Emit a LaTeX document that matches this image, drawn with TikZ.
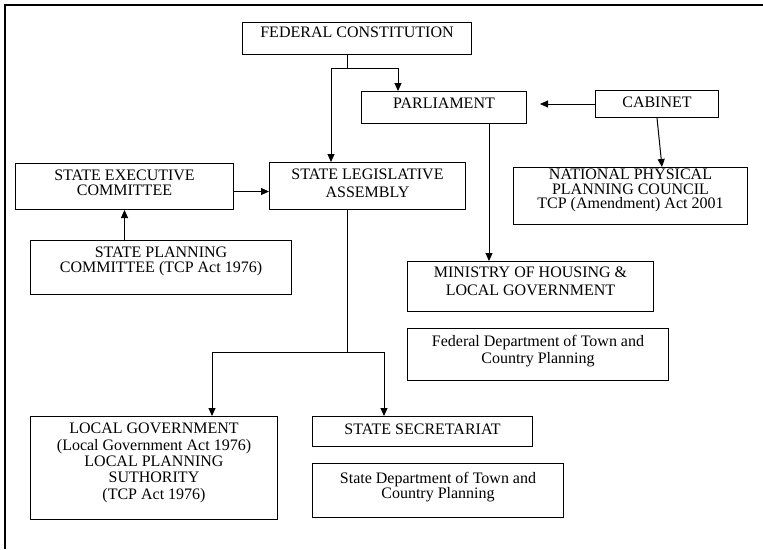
\documentclass[tikz,border=0pt]{standalone}
\usepackage{fontspec}
\setmainfont{Liberation Serif}
\usepackage{tikz}
\usetikzlibrary{arrows.meta, positioning}
\tikzstyle{block} = [rectangle, draw=black, line width=1pt, inner sep=0pt, anchor=north west]
\tikzstyle{txt} = [inner sep=0pt, align=center]
\tikzstyle{arrow} = [line width=1pt, ->, >={Triangle[length=8pt,width=7pt]}]
\tikzstyle{line} = [line width=1pt]
\newcommand{\boxfont}[1]{\fontsize{16}{#1}\selectfont}

\begin{document}
\begin{tikzpicture}[x=1pt, y=-1pt]
    \useasboundingbox (0,0) rectangle (763,549);
    \draw[line width=2.5pt] (5,549) -- (5,5) -- (763,5);
    % boxes
    \node (fc) [block, minimum width=229pt, minimum height=32pt] at (242,22) {};
    \node (parl) [block, minimum width=165pt, minimum height=32pt] at (361,91) {};
    \node (cab) [block, minimum width=123pt, minimum height=27pt] at (595,90) {};
    \node (sla) [block, minimum width=196pt, minimum height=47pt] at (269,162) {};
    \node (sec) [block, minimum width=218pt, minimum height=46pt] at (15,163) {};
    \node (spc) [block, minimum width=261pt, minimum height=54pt] at (30,240) {};
    \node (nppc) [block, minimum width=234pt, minimum height=57pt] at (513,167) {};
    \node (min) [block, minimum width=246pt, minimum height=50pt] at (407,261) {};
    \node (fd) [block, minimum width=261pt, minimum height=52pt] at (407,328) {};
    \node (lg) [block, minimum width=247pt, minimum height=103pt] at (30,416) {};
    \node (ss) [block, minimum width=220pt, minimum height=30pt] at (312,416) {};
    \node (sd) [block, minimum width=251pt, minimum height=54pt] at (312,463) {};
    % texts
    \node (fc-t) [txt, below=5pt of fc.north, font=\boxfont{16}] {FEDERAL CONSTITUTION};
    \node (parl-t) [txt, below=7pt of parl.north, font=\boxfont{16}] {PARLIAMENT};
    \node (cab-t) [txt, below=7pt of cab.north, font=\boxfont{16}] {CABINET};
    \node (sla-t) [txt, below=7pt of sla.north, font=\boxfont{18}] {STATE LEGISLATIVE\\ASSEMBLY};
    \node (sec-t) [txt, below=7pt of sec.north, font=\boxfont{15}] {STATE EXECUTIVE\\COMMITTEE};
    \node (spc-t) [txt, below=7pt of spc.north, font=\boxfont{15}] {STATE PLANNING\\COMMITTEE (TCP Act 1976)};
    \node (nppc-t) [txt, below=2pt of nppc.north, font=\boxfont{14.5}] {NATIONAL PHYSICAL\\PLANNING COUNCIL\\TCP (Amendment) Act 2001};
    \node (min-t) [txt, below=6pt of min.north, font=\boxfont{18}] {MINISTRY OF HOUSING \&\\LOCAL GOVERNMENT};
    \node (fd-t) [txt, below=7pt of fd.north, font=\boxfont{17}] {Federal Department of Town and\\Country Planning};
    \node (lg-t) [txt, below=7pt of lg.north, font=\boxfont{16.3}] {LOCAL GOVERNMENT\\(Local Government Act 1976)\\LOCAL PLANNING\\SUTHORITY\\(TCP Act 1976)};
    \node (ss-t) [txt, below=8pt of ss.north, font=\boxfont{16}] {STATE SECRETARIAT};
    \node (sd-t) [txt, below=9pt of sd.north, font=\boxfont{15}] {State Department of Town and\\Country Planning};
    % connectors
    \coordinate (fcSplit) at (347,68);
    \coordinate (fcL) at (331,68);
    \coordinate (fcR) at (398,68);
    \draw [line] (fc.south -| fcSplit) -- (fcSplit);
    \draw [line] (fcL) -- (fcR);
    \draw [arrow] (fcL) -- (fcL |- sla.north);
    \draw [arrow] (fcR) -- (fcR |- parl.north);
    \draw [arrow, shorten >=13pt] (cab.west) -- (parl.east |- cab.west);
    \draw [arrow] (cab.south) -- ([xshift=5pt]cab.south |- nppc.north);
    \coordinate (parlDown) at (489,123);
    \draw [arrow] (parlDown) -- (parlDown |- min.north);
    \draw [arrow] ([yshift=-5pt]sec.east) -- ([yshift=-5pt]sec.east -| sla.west);
    \draw [arrow] (spc.north -| sec.south) -- (sec.south);
    \coordinate (slaSplit) at (347,352);
    \coordinate (slaL) at (212,352);
    \coordinate (slaR) at (384,352);
    \draw [line] (sla.south -| slaSplit) -- (slaSplit);
    \draw [line] (slaL) -- (slaR);
    \draw [arrow] (slaL) -- (slaL |- lg.north);
    \draw [arrow] (slaR) -- (slaR |- ss.north);
\end{tikzpicture}
\end{document}
